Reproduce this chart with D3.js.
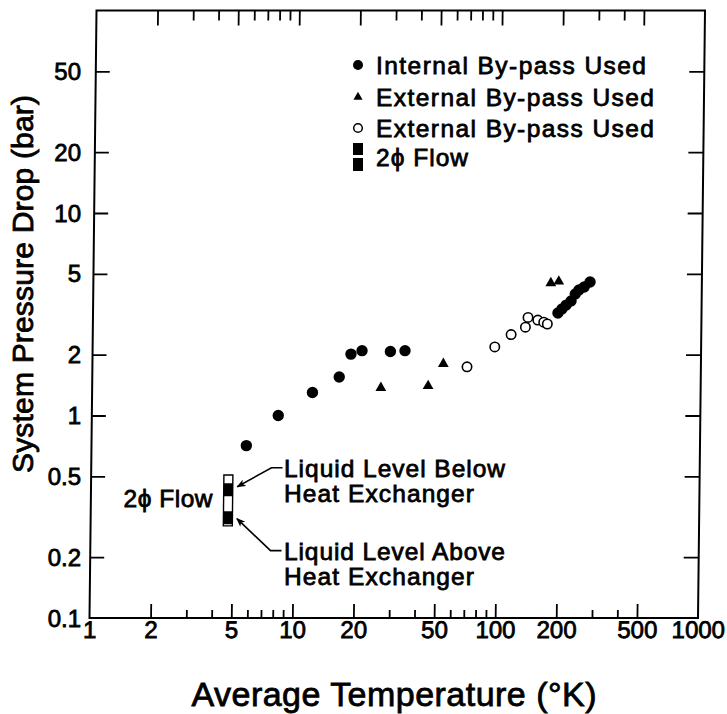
<!DOCTYPE html>
<html>
<head>
<meta charset="utf-8">
<script src="https://cdn.jsdelivr.net/npm/d3@7"></script>
<style>
  body { margin: 0; background: #fff; }
  svg text { font-family: "Liberation Sans", Arial, Helvetica, sans-serif; fill: #000; stroke: #000; stroke-width: 0.8px; }
</style>
</head>
<body>
<svg id="chart" width="727" height="714"></svg>
<script>
// Internal by-pass used (filled circles)
const internalTemp = [5.8, 8.3, 12.2, 16.5, 18.8, 21.3, 29.4, 34.7, 196, 205, 215, 227, 238, 248, 263, 281];
const internalDrop = [0.71, 1.00, 1.30, 1.55, 2.01, 2.09, 2.07, 2.09, 3.21, 3.36, 3.51, 3.68, 3.98, 4.17, 4.31, 4.56];

// External by-pass used (filled triangles)
const extTriTemp = [26.5, 45.3, 53.7, 180, 197];
const extTriDrop = [1.37, 1.40, 1.80, 4.51, 4.59];

// External by-pass used (open circles)
const extOpenTemp = [70.3, 96.1, 115.5, 135.7, 139.6, 156, 167, 174];
const extOpenDrop = [1.74, 2.18, 2.51, 2.73, 3.05, 2.96, 2.89, 2.83];

// Two-phase flow readings (filled squares) and their spread (open bar)
const twoPhaseTemp = 4.75;
const twoPhaseDrop = [0.43, 0.313];
const twoPhaseSpan = [0.285, 0.508];

// Axis ticks
const xLabels = [1, 2, 5, 10, 20, 50, 100, 200, 500, 1000];
const xMajor = [2, 5, 10, 20, 50, 100, 200, 500];
const xMinor = [3, 4, 6, 7, 8, 9, 30, 40, 60, 70, 80, 90, 300, 400];
const yLabels = [0.1, 0.2, 0.5, 1, 2, 5, 10, 20, 50];
const yMajor = [0.2, 0.5, 1, 2, 5, 10, 20, 50];

const legendItems = ["Internal By-pass Used", "External By-pass Used", "External By-pass Used", "2\u03D5 Flow"];

const svg = d3.select("#chart");
const x = d3.scaleLog().domain([1, 1000]).range([89.5, 698]);
const y = d3.scaleLog().domain([0.1, 100]).range([618, 10.5]);

// the plotting frame leans slightly to the right towards the top
const lean = -0.66;
const plot = svg.append("g")
  .attr("transform", `translate(0,${y(0.1)}) skewX(${lean}) translate(0,${-y(0.1)})`);

// frame
plot.append("rect")
  .attr("x", x(1)).attr("y", y(100))
  .attr("width", x(1000) - x(1)).attr("height", y(0.1) - y(100))
  .attr("fill", "none").attr("stroke", "#000").attr("stroke-width", 2);

function styleAxis(g) {
  g.select(".domain").remove();
  g.selectAll(".tick line").attr("stroke", "#000").attr("stroke-width", 1.8);
  g.attr("font-family", null).attr("font-size", null);
}

// bottom axis: major ticks + labels
plot.append("g").attr("transform", `translate(0,${y(0.1)})`)
  .call(d3.axisBottom(x).tickValues(xLabels).tickSizeInner(-14).tickSizeOuter(0).tickPadding(3)
    .tickFormat(d => String(d)))
  .call(styleAxis)
  .call(g => g.selectAll(".tick").filter(d => d === 1 || d === 1000).select("line").remove())
  .call(g => g.selectAll("text").style("font-size", "24px"));
plot.append("g").attr("transform", `translate(0,${y(0.1)})`)
  .call(d3.axisBottom(x).tickValues(xMinor).tickSizeInner(-8).tickSizeOuter(0).tickFormat(""))
  .call(styleAxis);

// top axis
plot.append("g").attr("transform", `translate(0,${y(100)})`)
  .call(d3.axisTop(x).tickValues(xMajor).tickSizeInner(-15).tickSizeOuter(0).tickFormat(""))
  .call(styleAxis);
plot.append("g").attr("transform", `translate(0,${y(100)})`)
  .call(d3.axisTop(x).tickValues(xMinor).tickSizeInner(-10).tickSizeOuter(0).tickFormat(""))
  .call(styleAxis);

// left and right axes
plot.append("g").attr("transform", `translate(${x(1)},0)`)
  .call(d3.axisLeft(y).tickValues(yMajor).tickSizeInner(-14).tickSizeOuter(0).tickFormat(""))
  .call(styleAxis);
plot.append("g").attr("transform", `translate(${x(1000)},0)`)
  .call(d3.axisRight(y).tickValues(yMajor).tickSizeInner(-15).tickSizeOuter(0).tickFormat(""))
  .call(styleAxis);

// y tick labels, set upright beside the frame
svg.append("g").selectAll("text").data(yLabels).join("text")
  .attr("x", 81).attr("y", d => y(d) + 8.5)
  .attr("text-anchor", "end").style("font-size", "24px")
  .text(d => String(d));

// marks
plot.append("g").selectAll("circle").data(internalTemp).join("circle")
  .attr("cx", d => x(d)).attr("cy", (d, i) => y(internalDrop[i])).attr("r", 5.7)
  .attr("fill", "#000");

plot.append("g").selectAll("circle").data(extOpenTemp).join("circle")
  .attr("cx", d => x(d)).attr("cy", (d, i) => y(extOpenDrop[i])).attr("r", 4.7)
  .attr("fill", "#fff").attr("stroke", "#000").attr("stroke-width", 1.6);

const tri = d3.symbol(d3.symbolTriangle, 50);
plot.append("g").selectAll("path").data(extTriTemp).join("path")
  .attr("transform", (d, i) => `translate(${x(d)},${y(extTriDrop[i])})`)
  .attr("d", tri).attr("fill", "#000");

// two-phase flow glyph
const tx = x(twoPhaseTemp);
plot.append("rect")
  .attr("x", tx - 4.5).attr("y", y(twoPhaseSpan[1]))
  .attr("width", 9).attr("height", y(twoPhaseSpan[0]) - y(twoPhaseSpan[1]))
  .attr("fill", "#fff").attr("stroke", "#000").attr("stroke-width", 1.4);
plot.append("g").selectAll("rect").data(twoPhaseDrop).join("rect")
  .attr("x", tx - 4.5).attr("y", d => y(d) - 6.5)
  .attr("width", 9).attr("height", 13).attr("fill", "#000");

// leader arrows for the two readings
svg.append("defs").append("marker")
  .attr("id", "head").attr("viewBox", "0 0 10 10").attr("refX", 9).attr("refY", 5)
  .attr("markerWidth", 9).attr("markerHeight", 9).attr("markerUnits", "userSpaceOnUse")
  .attr("orient", "auto")
  .append("path").attr("d", "M0,1 L10,5 L0,9 L2.5,5 Z").attr("fill", "#000");

const leaders = [
  { v: twoPhaseDrop[0], dy: -3, ex: 34, ey: -19 },
  { v: twoPhaseDrop[1], dy: 1, ex: 34, ey: 32 }
];
plot.append("g").selectAll("path").data(leaders).join("path")
  .attr("d", d => {
    const x0 = tx + 9, y0 = y(d.v) + d.dy;
    return `M${x0 + d.ex + 11},${y0 + d.ey} L${x0 + d.ex},${y0 + d.ey} L${x0},${y0}`;
  })
  .attr("fill", "none").attr("stroke", "#000").attr("stroke-width", 1.6)
  .attr("marker-end", "url(#head)");

// annotation text
const note = svg.append("g").style("font-size", "24.5px");
note.append("text").attr("x", 213).attr("y", 507).attr("text-anchor", "end")
  .attr("letter-spacing", 0.5).text("2\u03D5 Flow");
note.append("text").attr("x", 284).attr("y", 477).attr("textLength", 221).text("Liquid Level Below");
note.append("text").attr("x", 284).attr("y", 502).attr("textLength", 190).text("Heat Exchanger");
note.append("text").attr("x", 284).attr("y", 560).attr("textLength", 221).text("Liquid Level Above");
note.append("text").attr("x", 284).attr("y", 585).attr("textLength", 190).text("Heat Exchanger");

// legend
const lg = svg.append("g").style("font-size", "24.5px");
const rows = [65, 97, 128, 157];
const widths = [270, 278, 278, 92];
lg.selectAll("text").data(legendItems).join("text")
  .attr("x", 376).attr("y", (d, i) => rows[i] + 8.5)
  .attr("textLength", (d, i) => widths[i])
  .text(d => d);
lg.append("circle").attr("cx", 358).attr("cy", rows[0]).attr("r", 5).attr("fill", "#000");
lg.append("path").attr("transform", `translate(358,${rows[1]})`)
  .attr("d", d3.symbol(d3.symbolTriangle, 36)).attr("fill", "#000");
lg.append("circle").attr("cx", 358).attr("cy", rows[2]).attr("r", 4.3)
  .attr("fill", "#fff").attr("stroke", "#000").attr("stroke-width", 1.5);
lg.append("rect").attr("x", 353).attr("y", rows[3] - 14).attr("width", 10).attr("height", 12).attr("fill", "#000");
lg.append("rect").attr("x", 353).attr("y", rows[3] + 1).attr("width", 10).attr("height", 13).attr("fill", "#000");

// axis titles
svg.append("text").attr("x", 394).attr("y", 706).attr("text-anchor", "middle")
  .style("font-size", "34px").attr("textLength", 405)
  .text("Average Temperature (\u00B0K)");
svg.append("text").attr("transform", "translate(33,284) rotate(-90)").attr("text-anchor", "middle")
  .style("font-size", "30px").attr("textLength", 378)
  .text("System Pressure Drop (bar)");
</script>
</body>
</html>
